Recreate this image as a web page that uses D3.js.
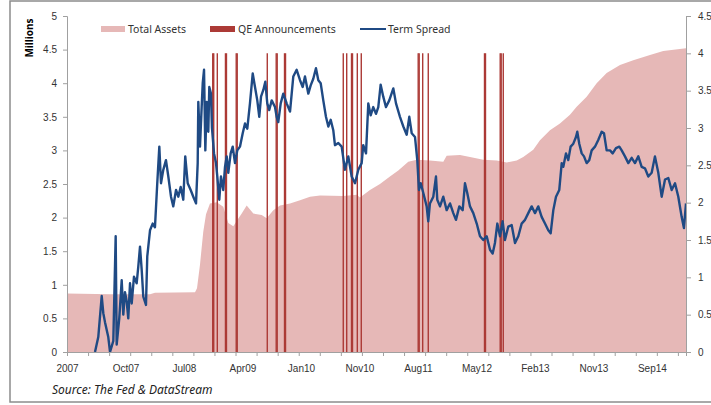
<!DOCTYPE html>
<html>
<head>
<meta charset="utf-8">
<script src="https://cdn.jsdelivr.net/npm/d3@7"></script>
<style>
  body { margin: 0; background: #fff; }
  svg { display: block; font-family: "Noto Sans", sans-serif; }
  .axis path, .axis line { stroke: #a0a0a0; }
  .axis text { fill: #333; font-size: 10px; }
</style>
</head>
<body>
<svg width="711" height="405"></svg>
<script>
// time is in years since 1 Jan 2007
const assets = [
  [0, 0.87], [0.564, 0.86], [1.088, 0.86], [1.153, 0.88], [1.678, 0.89], [1.704, 0.95],
  [1.743, 1.3], [1.786, 1.79], [1.822, 2.05], [1.874, 2.21], [1.962, 2.23], [2.048, 2.16],
  [2.114, 1.92], [2.180, 1.87], [2.224, 1.95], [2.290, 2.06], [2.355, 2.18], [2.442, 2.06],
  [2.552, 2.04], [2.617, 1.99], [2.704, 2.11], [2.792, 2.18], [2.923, 2.21], [3.054, 2.26],
  [3.185, 2.31], [3.316, 2.33], [3.621, 2.32], [3.797, 2.34], [3.840, 2.3], [3.971, 2.41],
  [4.102, 2.5], [4.233, 2.61], [4.342, 2.7], [4.473, 2.83], [4.583, 2.86], [4.757, 2.85],
  [4.932, 2.83], [4.976, 2.92], [5.151, 2.93], [5.282, 2.9], [5.456, 2.86], [5.632, 2.85],
  [5.763, 2.82], [5.894, 2.85], [5.980, 2.9], [6.111, 3.01], [6.199, 3.15], [6.330, 3.3],
  [6.461, 3.4], [6.592, 3.53], [6.680, 3.65], [6.811, 3.8], [6.942, 4.0], [7.073, 4.15],
  [7.248, 4.27], [7.422, 4.34], [7.641, 4.42], [7.815, 4.48], [8.113, 4.52]
];

const spread = [
  [0.367, 0], [0.410, 0.2], [0.455, 0.75], [0.476, 0.52], [0.498, 0.4], [0.541, 0.2],
  [0.564, 0], [0.607, 0.15], [0.638, 1.55], [0.651, 0.1], [0.685, 0.45], [0.717, 0.96],
  [0.738, 0.5], [0.760, 0.8], [0.782, 0.68], [0.803, 0.45], [0.826, 0.92], [0.848, 0.65],
  [0.878, 1.01], [0.913, 0.92], [0.934, 1.14], [0.957, 1.41], [0.979, 1.1], [1.000, 0.74],
  [1.035, 0.63], [1.052, 1.28], [1.088, 1.63], [1.123, 1.72], [1.153, 1.67], [1.183, 2.26],
  [1.210, 2.75], [1.232, 2.26], [1.262, 2.44], [1.297, 2.57], [1.328, 2.35], [1.363, 2.08],
  [1.393, 1.95], [1.429, 2.17], [1.459, 2.08], [1.490, 2.21], [1.524, 2.04], [1.550, 2.62],
  [1.582, 2.26], [1.621, 2.17], [1.655, 2.08], [1.691, 1.99], [1.713, 2.53], [1.721, 3.35],
  [1.743, 2.75], [1.765, 3.28], [1.779, 3.6], [1.796, 3.78], [1.813, 2.7], [1.831, 3.35],
  [1.852, 2.95], [1.865, 3.55], [1.887, 3.46], [1.900, 3.0], [1.927, 2.66], [1.953, 2.53],
  [1.970, 2.35], [1.996, 2.04], [2.018, 2.35], [2.048, 2.17], [2.071, 2.48], [2.093, 2.62],
  [2.114, 2.4], [2.145, 2.66], [2.172, 2.75], [2.202, 2.53], [2.232, 2.7], [2.267, 2.75],
  [2.303, 2.93], [2.333, 3.06], [2.363, 2.99], [2.398, 3.33], [2.434, 3.73], [2.464, 3.55],
  [2.494, 3.37], [2.520, 3.15], [2.543, 3.42], [2.573, 3.51], [2.599, 3.62], [2.625, 3.33],
  [2.651, 3.24], [2.683, 3.37], [2.726, 3.28], [2.748, 3.15], [2.769, 3.08], [2.801, 3.33],
  [2.835, 3.46], [2.879, 3.33], [2.923, 3.22], [2.966, 3.69], [3.010, 3.78], [3.054, 3.64],
  [3.089, 3.55], [3.119, 3.69], [3.163, 3.46], [3.194, 3.57], [3.228, 3.66], [3.263, 3.8],
  [3.294, 3.64], [3.325, 3.6], [3.359, 3.37], [3.394, 3.15], [3.425, 3.02], [3.456, 3.11],
  [3.490, 2.97], [3.512, 2.77], [3.556, 2.8], [3.600, 2.75], [3.643, 2.44], [3.687, 2.62],
  [3.731, 2.35], [3.775, 2.26], [3.818, 2.44], [3.862, 2.53], [3.883, 2.77], [3.919, 2.66],
  [3.949, 3.33], [3.980, 3.17], [4.014, 3.28], [4.050, 3.19], [4.080, 3.28], [4.111, 3.58],
  [4.145, 3.42], [4.181, 3.28], [4.224, 3.37], [4.277, 3.53], [4.312, 3.33], [4.364, 3.15],
  [4.408, 3.02], [4.452, 2.91], [4.486, 3.15], [4.518, 2.93], [4.561, 2.88], [4.591, 2.57],
  [4.613, 2.17], [4.636, 2.26], [4.670, 2.13], [4.714, 1.95], [4.735, 1.75], [4.757, 1.99],
  [4.801, 2.08], [4.836, 2.35], [4.853, 2.04], [4.889, 1.95], [4.932, 2.08], [4.976, 1.9],
  [5.020, 1.99], [5.063, 1.86], [5.098, 1.77], [5.142, 1.95], [5.186, 1.9], [5.216, 2.26],
  [5.246, 2.13], [5.282, 1.95], [5.325, 1.86], [5.370, 1.72], [5.413, 1.55], [5.456, 1.5],
  [5.501, 1.55], [5.544, 1.37], [5.579, 1.32], [5.609, 1.46], [5.640, 1.72], [5.675, 1.55],
  [5.710, 1.75], [5.740, 1.5], [5.784, 1.68], [5.828, 1.7], [5.872, 1.46], [5.915, 1.55],
  [5.959, 1.72], [6.003, 1.77], [6.046, 1.86], [6.090, 1.95], [6.134, 1.86], [6.177, 1.95],
  [6.221, 1.81], [6.265, 1.72], [6.308, 1.63], [6.339, 1.59], [6.374, 1.9], [6.409, 2.08],
  [6.452, 2.17], [6.484, 2.53], [6.505, 2.48], [6.540, 2.66], [6.570, 2.57], [6.601, 2.75],
  [6.636, 2.79], [6.671, 2.88], [6.688, 2.95], [6.714, 2.79], [6.746, 2.66], [6.776, 2.62],
  [6.811, 2.53], [6.845, 2.57], [6.877, 2.7], [6.920, 2.75], [6.963, 2.84], [7.008, 2.95],
  [7.038, 2.93], [7.073, 2.7], [7.117, 2.7], [7.152, 2.66], [7.195, 2.73], [7.239, 2.75],
  [7.270, 2.7], [7.313, 2.62], [7.357, 2.53], [7.401, 2.6], [7.444, 2.53], [7.488, 2.62],
  [7.532, 2.48], [7.575, 2.46], [7.619, 2.35], [7.663, 2.4], [7.706, 2.62], [7.750, 2.4],
  [7.794, 2.08], [7.838, 2.31], [7.881, 2.33], [7.925, 2.17], [7.969, 2.26], [8.012, 2.08],
  [8.056, 1.81], [8.086, 1.66], [8.113, 1.99]
];

// QE announcement bars, all plotted at 4 on the right axis
const qeDates = [
  1.910, 1.923, 1.970, 2.077, 2.090, 2.218, 2.231, 2.625, 2.742, 2.755, 2.851, 2.864,
  3.621, 3.666, 3.729, 3.742, 3.805, 3.857, 4.603, 4.616, 4.662, 4.735,
  5.472, 5.485, 5.678, 5.691, 5.718
];
const qeValue = 4;

const xLabels = ["2007", "Oct07", "Jul08", "Apr09", "Jan10", "Nov10", "Aug11", "May12", "Feb13", "Nov13", "Sep14"];
const leftTicks = [0, 0.5, 1, 1.5, 2, 2.5, 3, 3.5, 4, 4.5, 5];
const rightTicks = [0, 0.5, 1, 1.5, 2, 2.5, 3, 3.5, 4, 4.5];

const labelStep = 0.7666;  // 200 business days
const tickStep = 0.2761;
const tEnd = 8.113;

const svg = d3.select("svg");
const pL = 67, pR = 686, pT = 16, pB = 352;

// frame
svg.append("rect")
  .attr("x", 10).attr("y", 1)
  .attr("width", 720).attr("height", 401)
  .attr("fill", "none")
  .attr("stroke", "#8c8c8c")
  .attr("stroke-width", 1.5);

const x = d3.scaleLinear().domain([0, tEnd]).range([pL, pR]);
const yL = d3.scaleLinear().domain([0, 5]).range([pB, pT]);
const yR = d3.scaleLinear().domain([0, 4.5]).range([pB, pT]);

svg.append("defs").append("clipPath").attr("id", "plot")
  .append("rect").attr("x", pL).attr("y", pT)
  .attr("width", pR - pL).attr("height", pB - pT);

const plot = svg.append("g").attr("clip-path", "url(#plot)");

plot.append("path")
  .datum(assets)
  .attr("fill", "#e6b8b7")
  .attr("d", d3.area().x(d => x(d[0])).y0(pB).y1(d => yL(d[1])));

plot.selectAll("line.qe")
  .data(qeDates)
  .join("line")
  .attr("class", "qe")
  .attr("x1", d => x(d)).attr("x2", d => x(d))
  .attr("y1", yR(qeValue)).attr("y2", yR(0))
  .attr("stroke", "#ac3a36")
  .attr("stroke-width", 1.4);

plot.append("path")
  .datum(spread)
  .attr("fill", "none")
  .attr("stroke", "#1f4a84")
  .attr("stroke-width", 2.4)
  .attr("stroke-linejoin", "round")
  .attr("d", d3.line().x(d => x(d[0])).y(d => yR(d[1])));

// axes
svg.append("g").attr("class", "axis")
  .attr("transform", `translate(${pL},0)`)
  .call(d3.axisLeft(yL).tickValues(leftTicks).tickSize(4).tickPadding(6).tickFormat(d => d));

svg.append("g").attr("class", "axis")
  .attr("transform", `translate(${pR},0)`)
  .call(d3.axisRight(yR).tickValues(rightTicks).tickSize(5).tickPadding(7).tickFormat(d => d));

svg.append("g").attr("class", "axis")
  .attr("transform", `translate(0,${pB})`)
  .call(d3.axisBottom(x).tickValues(d3.range(0, tEnd, tickStep)).tickSize(4).tickFormat(""));

svg.append("g").attr("class", "axis")
  .attr("transform", `translate(0,${pB})`)
  .call(d3.axisBottom(x).tickValues(xLabels.map((_, i) => i * labelStep))
    .tickSize(0).tickPadding(13).tickFormat((d, i) => xLabels[i]))
  .call(g => g.select(".domain").remove());

svg.append("text")
  .attr("transform", "translate(33,38) rotate(-90)")
  .attr("text-anchor", "middle")
  .attr("font-size", 10)
  .attr("font-weight", "bold")
  .text("Millions");

svg.append("text")
  .attr("x", 52).attr("y", 394)
  .attr("font-size", 12)
  .attr("font-style", "italic")
  .attr("fill", "#222")
  .text("Source: The Fed & DataStream");

// legend
const legend = svg.append("g").attr("font-size", 10.5).attr("fill", "#333");
legend.append("rect").attr("x", 101).attr("y", 26).attr("width", 24).attr("height", 6).attr("fill", "#e6b8b7");
legend.append("text").attr("x", 128).attr("y", 33).text("Total Assets");
legend.append("rect").attr("x", 210).attr("y", 26).attr("width", 25).attr("height", 6).attr("fill", "#ac3a36");
legend.append("text").attr("x", 238).attr("y", 33).text("QE Announcements");
legend.append("line").attr("x1", 360).attr("x2", 386).attr("y1", 29).attr("y2", 29)
  .attr("stroke", "#1f4a84").attr("stroke-width", 2);
legend.append("text").attr("x", 388).attr("y", 33).text("Term Spread");
</script>
</body>
</html>
